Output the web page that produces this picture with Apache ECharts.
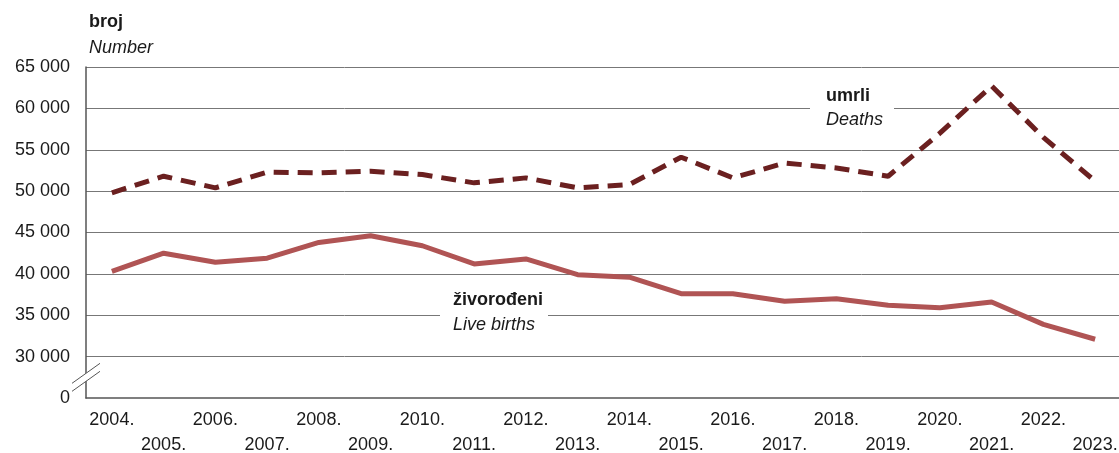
<!DOCTYPE html>
<html>
<head>
<meta charset="utf-8">
<script src="https://cdn.jsdelivr.net/npm/echarts@6/dist/echarts.min.js"></script>
<style>
  html, body { margin: 0; padding: 0; background: #fff; }
  #chart { width: 1119px; height: 453px; }
</style>
</head>
<body>
<div id="chart"></div>
<script>
var years = ['2004.', '2005.', '2006.', '2007.', '2008.', '2009.', '2010.', '2011.', '2012.', '2013.',
             '2014.', '2015.', '2016.', '2017.', '2018.', '2019.', '2020.', '2021.', '2022.', '2023.'];
var deaths = [49800, 51800, 50400, 52300, 52200, 52400, 52000, 51000, 51600, 50400,
              50800, 54100, 51600, 53400, 52800, 51800, 57000, 62700, 56500, 51200];
var liveBirths = [40300, 42500, 41400, 41900, 43800, 44600, 43400, 41200, 41800, 39900,
                  39600, 37600, 37600, 36700, 37000, 36200, 35900, 36600, 33900, 32100];
// the axis is broken: bottom of the plot stands for 0
var yTicks = [25000, 30000, 35000, 40000, 45000, 50000, 55000, 60000, 65000];

var font = 'Liberation Sans, Arial, sans-serif';
var dom = document.getElementById('chart');
var myChart = echarts.init(dom);
var option;

option = {
  animation: false,
  textStyle: { fontFamily: font },
  title: {
    left: 84,
    top: 4,
    text: '{a|broj}\n{b|Number}',
    textStyle: {
      fontWeight: 'normal',
      rich: {
        a: { fontFamily: font, fontSize: 18, fontWeight: 'bold', color: '#1a1a1a', lineHeight: 27 },
        b: { fontFamily: font, fontSize: 18, fontWeight: 'normal', fontStyle: 'italic', color: '#1a1a1a', lineHeight: 24 }
      }
    }
  },
  grid: { left: 86, right: -2, top: 67, bottom: 55, outerBoundsMode: 'none' },
  xAxis: {
    type: 'category',
    data: years,
    boundaryGap: true,
    axisLine: { lineStyle: { color: '#555', width: 1.5 } },
    axisTick: { inside: true, length: 8, lineStyle: { color: '#555', width: 1 } },
    axisLabel: {
      interval: 0,
      margin: 10,
      fontSize: 18,
      color: '#1a1a1a',
      lineHeight: 25,
      formatter: function (v, i) { return i % 2 ? '\n' + v : v; }
    }
  },
  yAxis: {
    type: 'value',
    min: yTicks[0],
    max: yTicks[yTicks.length - 1],
    interval: 5000,
    axisLine: { show: true, lineStyle: { color: '#555', width: 1.5 } },
    axisTick: { show: false },
    axisLabel: {
      margin: 16,
      fontSize: 18,
      color: '#1a1a1a',
      formatter: function (v) { return v === yTicks[0] ? '0' : (v / 1000) + ' 000'; }
    },
    splitLine: {
      show: true,
      lineStyle: { color: ['transparent', '#777', '#777', '#777', '#777', '#777', '#777', '#777', '#777'], width: 1 }
    }
  },
  series: [
    {
      name: 'umrli',
      type: 'line',
      data: deaths,
      symbol: 'none',
      lineStyle: { color: '#6b2020', width: 5, type: [15, 9] },
      z: 3
    },
    {
      name: 'živorođeni',
      type: 'line',
      data: liveBirths,
      symbol: 'none',
      lineStyle: { color: '#b05454', width: 5 },
      z: 3
    }
  ]
};

if (option && typeof option === 'object') {
  myChart.setOption(option);
}

// labels and axis break, placed from the chart's own scales
var pDeaths = myChart.convertToPixel({ gridIndex: 0 }, [0, 60000]);
var pBirths = myChart.convertToPixel({ gridIndex: 0 }, [0, 35000]);
var pZero = myChart.convertToPixel({ gridIndex: 0 }, [0, 25000]);
var pThirty = myChart.convertToPixel({ gridIndex: 0 }, [0, 30000]);
var midY = (pZero[1] + pThirty[1]) / 2;

myChart.setOption({
  graphic: [
    { type: 'rect', shape: { x: 810, y: pDeaths[1] - 22, width: 84, height: 50 }, style: { fill: '#fff' }, z: 2 },
    { type: 'text', x: 826, y: pDeaths[1] - 21, style: { text: 'umrli', font: 'bold 18px ' + font, fill: '#1a1a1a' }, z: 4 },
    { type: 'text', x: 826, y: pDeaths[1] + 3, style: { text: 'Deaths', font: 'italic 18px ' + font, fill: '#1a1a1a' }, z: 4 },
    { type: 'rect', shape: { x: 440, y: pBirths[1] - 25, width: 108, height: 50 }, style: { fill: '#fff' }, z: 2 },
    { type: 'text', x: 453, y: pBirths[1] - 24, style: { text: 'živorođeni', font: 'bold 18px ' + font, fill: '#1a1a1a' }, z: 4 },
    { type: 'text', x: 453, y: pBirths[1] + 1, style: { text: 'Live births', font: 'italic 18px ' + font, fill: '#1a1a1a' }, z: 4 },
    { type: 'polygon', shape: { points: [[72, midY + 6], [100, midY - 14], [100, midY - 6], [72, midY + 14]] }, style: { fill: '#fff' }, z: 5 },
    { type: 'line', shape: { x1: 72, y1: midY + 6, x2: 100, y2: midY - 14 }, style: { stroke: '#555', lineWidth: 1 }, z: 6 },
    { type: 'line', shape: { x1: 72, y1: midY + 14, x2: 100, y2: midY - 6 }, style: { stroke: '#555', lineWidth: 1 }, z: 6 }
  ]
});
</script>
</body>
</html>
